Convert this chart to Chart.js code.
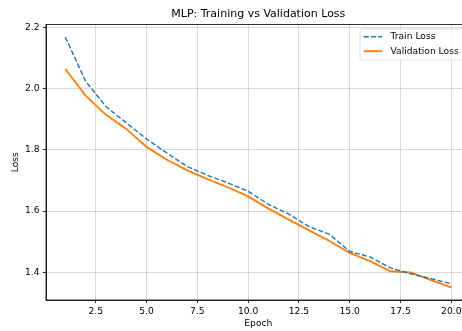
<!DOCTYPE html>
<html>
<head>
<meta charset="utf-8">
<script src="https://cdn.jsdelivr.net/npm/chart.js@4/dist/chart.umd.min.js"></script>
<style>
  html, body { margin: 0; padding: 0; background: #fff; overflow: hidden; }
  #wrap { width: 462px; height: 331px; overflow: hidden; }
</style>
</head>
<body>
<div id="wrap"><canvas id="lossChart" width="480" height="331"></canvas></div>
<script>
// MLP loss curves
const epochs = [1, 2, 3, 4, 5, 6, 7, 8, 9, 10, 11, 12, 13, 14, 15, 16, 17, 18, 19, 20];
const trainLoss = [2.170, 2.025, 1.942, 1.889, 1.836, 1.790, 1.746, 1.717, 1.692, 1.665,
                   1.622, 1.590, 1.549, 1.524, 1.468, 1.450, 1.414, 1.395, 1.379, 1.362];
const valLoss = [2.065, 1.978, 1.915, 1.869, 1.810, 1.768, 1.733, 1.705, 1.678, 1.648,
                 1.608, 1.572, 1.537, 1.502, 1.463, 1.436, 1.403, 1.399, 1.374, 1.350];
const xTicks = [2.5, 5.0, 7.5, 10.0, 12.5, 15.0, 17.5, 20.0];
const yTicks = [1.4, 1.6, 1.8, 2.0, 2.2];

const BLUE = "#1f77b4";
const ORANGE = "#ff7f0e";

// matplotlib-like 5% margins
function padRange(vals) {
  let lo = Math.min(...vals), hi = Math.max(...vals);
  let m = (hi - lo) * 0.05;
  return [lo - m, hi + m];
}
const [xMin, xMax] = padRange(epochs);
const [yMin, yMax] = padRange(trainLoss.concat(valLoss));

Chart.defaults.font.family = "'DejaVu Sans', sans-serif";
Chart.defaults.color = "#000";

// top/right spines + title centered over axes
const framePlugin = {
  id: "frame",
  afterLayout(chart) {
    let a = chart.chartArea, tb = chart.titleBlock;
    if (tb) { tb.left = a.left; tb.right = a.right; tb.width = a.right - a.left; }
  },
  afterDraw(chart) {
    let a = chart.chartArea, ctx = chart.ctx;
    ctx.save();
    ctx.strokeStyle = "#000";
    ctx.lineWidth = 0.8;
    ctx.strokeRect(a.left, a.top, a.right - a.left, a.bottom - a.top);
    ctx.restore();
  }
};

// legend box inside the axes, upper right
const boxLegend = {
  id: "boxLegend",
  afterDraw(chart) {
    let a = chart.chartArea, ctx = chart.ctx;
    let fs = 9.17;
    let right = a.right - 4.6, top = a.top + 4.6;
    let w = 106, h = 31;
    let left = right - w;
    ctx.save();
    ctx.beginPath();
    ctx.roundRect(left, top, w, h, 2);
    ctx.fillStyle = "rgba(255,255,255,0.8)";
    ctx.fill();
    ctx.strokeStyle = "rgba(204,204,204,0.8)";
    ctx.lineWidth = 0.8;
    ctx.stroke();
    ctx.font = fs + "px 'DejaVu Sans'";
    ctx.textBaseline = "middle";
    ctx.fillStyle = "#000";
    chart.data.datasets.forEach((ds, i) => {
      let y = top + 7.8 + i * 14.4;
      ctx.beginPath();
      ctx.setLineDash(ds.borderDash || []);
      ctx.strokeStyle = ds.borderColor;
      ctx.lineWidth = ds.borderWidth;
      ctx.moveTo(left + 3.7, y);
      ctx.lineTo(left + 3.7 + 18.3, y);
      ctx.stroke();
      ctx.setLineDash([]);
      ctx.fillText(ds.label, left + 3.7 + 18.3 + 8.5, y);
    });
    ctx.restore();
  }
};

new Chart(document.getElementById("lossChart"), {
  type: "line",
  data: {
    datasets: [
      {
        label: "Train Loss",
        data: epochs.map((e, i) => ({x: e, y: trainLoss[i]})),
        borderColor: BLUE,
        borderWidth: 1.4,
        borderDash: [5.1, 2.2],
        pointRadius: 0,
        tension: 0,
        fill: false
      },
      {
        label: "Validation Loss",
        data: epochs.map((e, i) => ({x: e, y: valLoss[i]})),
        borderColor: ORANGE,
        borderWidth: 1.9,
        pointRadius: 0,
        tension: 0,
        fill: false
      }
    ]
  },
  options: {
    responsive: false,
    animation: false,
    layout: {padding: {left: 0, right: 9.4, top: 0, bottom: 0}},
    plugins: {
      legend: {display: false},
      tooltip: {enabled: false},
      title: {
        display: true,
        text: "MLP: Training vs Validation Loss",
        font: {size: 11, weight: "normal"},
        color: "#000",
        padding: {top: 8, bottom: 3.2}
      }
    },
    scales: {
      x: {
        type: "linear",
        min: xMin,
        max: xMax,
        afterBuildTicks: s => { s.ticks = xTicks.map(v => ({value: v})); },
        afterFit: s => { s.height = 31; },
        ticks: {
          font: {size: 9.17},
          padding: 3,
          maxRotation: 0,
          callback: v => Number(v).toFixed(1)
        },
        grid: {color: "#cfcfcf", lineWidth: 0.8, tickLength: 3.2, tickColor: "#000", tickWidth: 0.8},
        border: {color: "#000", width: 0.8},
        title: {display: true, text: "Epoch", font: {size: 9.17}, padding: {top: 0, bottom: 1.5}}
      },
      y: {
        min: yMin,
        max: yMax,
        afterBuildTicks: s => { s.ticks = yTicks.map(v => ({value: v})); },
        afterFit: s => { s.width = 46; },
        ticks: {
          font: {size: 9.17},
          padding: 3.2,
          callback: v => Number(v).toFixed(1)
        },
        grid: {color: "#cfcfcf", lineWidth: 0.8, tickLength: 3.2, tickColor: "#000", tickWidth: 0.8},
        border: {color: "#000", width: 0.8},
        title: {display: true, text: "Loss", font: {size: 9.17}, padding: {top: 10.5, bottom: 0}}
      }
    }
  },
  plugins: [framePlugin, boxLegend]
});
</script>
</body>
</html>
